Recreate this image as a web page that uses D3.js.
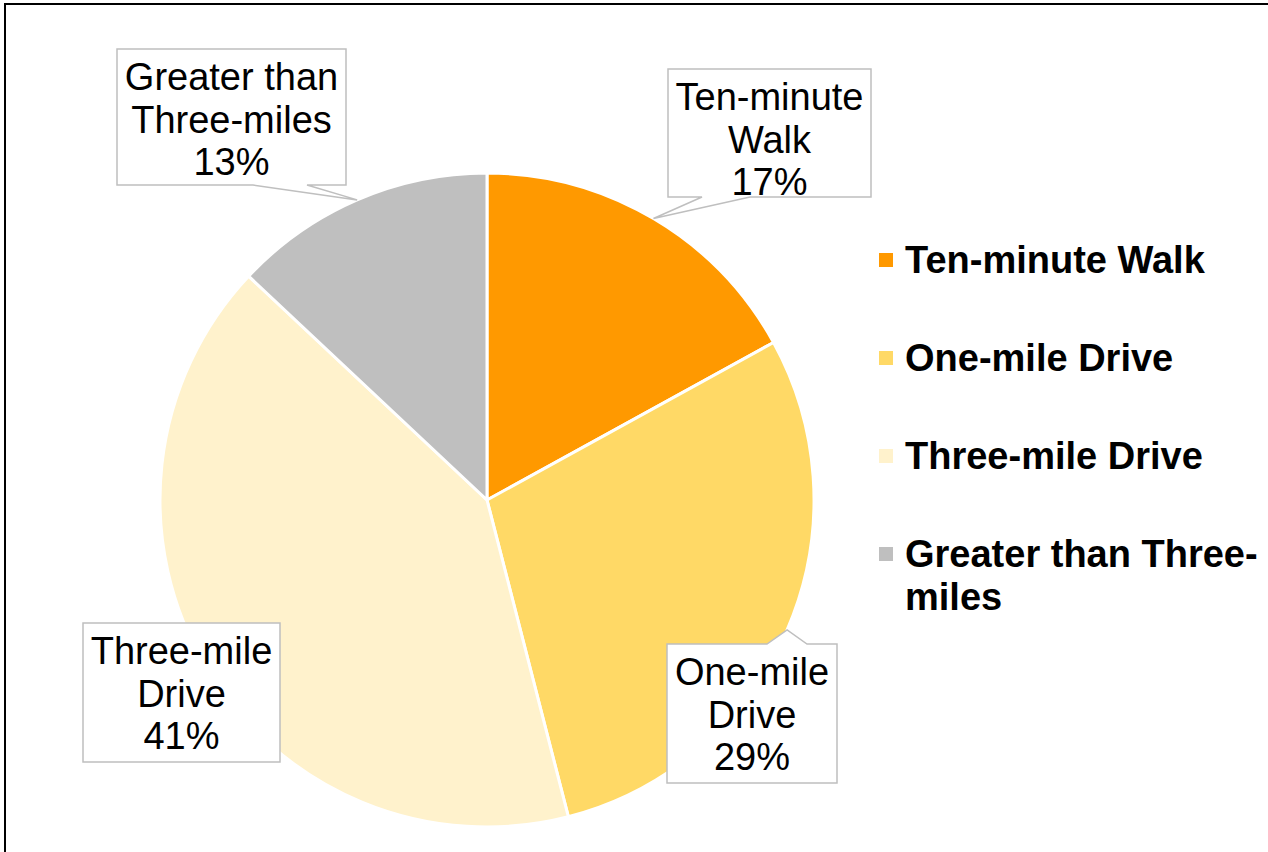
<!DOCTYPE html>
<html>
<head>
<meta charset="utf-8">
<script src="https://cdn.jsdelivr.net/npm/d3@7"></script>
<style>
  body { margin: 0; background: #fff; }
  text { font-family: "Liberation Sans", Arial, sans-serif; }
</style>
</head>
<body>
<script>
// chart data ----------------------------------------------------------
var categories = ["Ten-minute Walk", "One-mile Drive", "Three-mile Drive", "Greater than Three-miles"];
var shares = [17, 29, 41, 13];
var colours = ["#FF9900", "#FFD966", "#FFF2CC", "#BFBFBF"];

// layout
var svgWidth = 1268, svgHeight = 852;
var cx = 487, cy = 500, radius = 327;
var labelFont = 38, lineGap = 42.5;

// callout boxes (x, y, w, h) and which side the pointer leaves from
var boxes = [
  {x: 668, y: 69, w: 203, h: 128, side: "bottom", base: [702, 750]},
  {x: 667, y: 644, w: 170, h: 139, side: "top", base: [767, 807]},
  {x: 83, y: 623, w: 197, h: 139, side: "none"},
  {x: 117, y: 49, w: 229, h: 136, side: "bottom", base: [253, 307]}
];

var svg = d3.select("body").append("svg")
  .attr("width", svgWidth)
  .attr("height", svgHeight);

// outer frame, runs off the right and bottom
svg.append("rect")
  .attr("x", 5).attr("y", 4)
  .attr("width", 1400).attr("height", 1000)
  .attr("fill", "none")
  .attr("stroke", "#000")
  .attr("stroke-width", 2);

var pie = d3.pie().sort(null).value(function(d) { return d; });
var arcs = pie(shares);
var arc = d3.arc().innerRadius(0).outerRadius(radius);

var pieGroup = svg.append("g")
  .attr("transform", `translate(${cx}, ${cy})`);

pieGroup.selectAll("path")
  .data(arcs)
  .enter()
  .append("path")
  .attr("d", arc)
  .attr("fill", function(d, i) { return colours[i]; })
  .attr("stroke", "#fff")
  .attr("stroke-width", 3)
  .attr("stroke-linejoin", "round");

// callouts -------------------------------------------------------------
arcs.forEach(function(a, i) {
  var b = boxes[i];
  var mid = (a.startAngle + a.endAngle) / 2;
  var tipX = cx + radius * Math.sin(mid);
  var tipY = cy - radius * Math.cos(mid);
  var p;
  if (b.side == "bottom") {
    p = [[b.x, b.y], [b.x + b.w, b.y], [b.x + b.w, b.y + b.h], [b.base[1], b.y + b.h],
         [tipX, tipY], [b.base[0], b.y + b.h], [b.x, b.y + b.h]];
  } else if (b.side == "top") {
    p = [[b.x, b.y], [b.base[0], b.y], [tipX, tipY], [b.base[1], b.y], [b.x + b.w, b.y],
         [b.x + b.w, b.y + b.h], [b.x, b.y + b.h]];
  } else {
    p = [[b.x, b.y], [b.x + b.w, b.y], [b.x + b.w, b.y + b.h], [b.x, b.y + b.h]];
  }
  svg.append("path")
    .attr("d", d3.line()(p) + "Z")
    .attr("fill", "#fff")
    .attr("stroke", "#BFBFBF")
    .attr("stroke-width", 1.5);

  // split the name at its last space, then add the percent
  var name = categories[i];
  var k = name.lastIndexOf(" ");
  var lines = [name.slice(0, k), name.slice(k + 1), shares[i] + "%"];
  var t = svg.append("text")
    .attr("text-anchor", "middle")
    .attr("font-size", labelFont + "px")
    .attr("fill", "#000");
  lines.forEach(function(s, j) {
    t.append("tspan")
      .attr("x", b.x + b.w / 2)
      .attr("y", b.y + 41 + j * lineGap)
      .text(s);
  });
});

// legend ---------------------------------------------------------------
var legendX = 879, legendY = 260, legendStep = 98, legendMax = 365;

categories.forEach(function(c, i) {
  var y = legendY + i * legendStep;
  svg.append("rect")
    .attr("x", legendX).attr("y", y - 7)
    .attr("width", 14).attr("height", 14)
    .attr("fill", colours[i]);

  var t = svg.append("text")
    .attr("font-size", "38px")
    .attr("font-weight", "bold")
    .attr("fill", "#000");

  // greedy wrap, allowed to break after spaces and hyphens
  var words = c.split(/(?<=[ -])/);
  var lines = [], cur = "";
  var probe = t.append("tspan");
  words.forEach(function(w) {
    probe.text(cur + w);
    if (cur && probe.node().getComputedTextLength() > legendMax) {
      lines.push(cur.trim());
      cur = w;
    } else {
      cur = cur + w;
    }
  });
  lines.push(cur.trim());
  probe.remove();

  lines.forEach(function(s, j) {
    t.append("tspan")
      .attr("x", legendX + 26)
      .attr("y", y + 13 + j * 43)
      .text(s);
  });
});
</script>
</body>
</html>
